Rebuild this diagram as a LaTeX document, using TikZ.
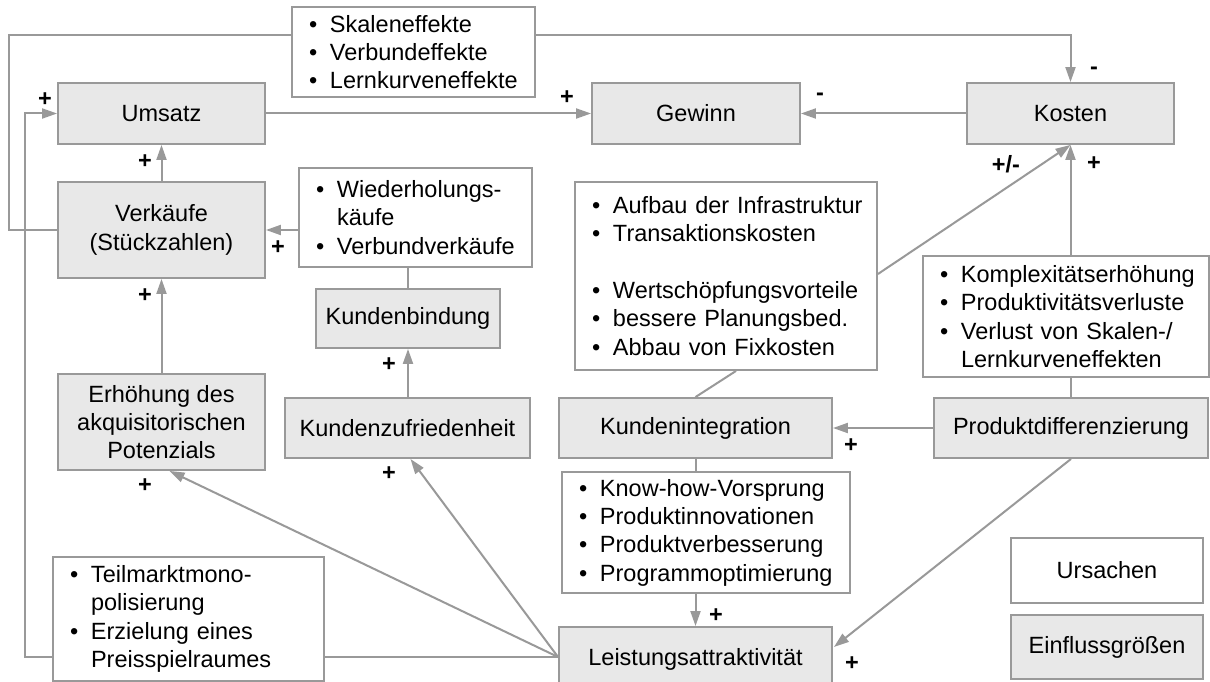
\documentclass[tikz,border=0pt]{standalone}
\usepackage{fontspec}
\setmainfont{Liberation Sans}
\usetikzlibrary{arrows.meta,calc}
\definecolor{ln}{HTML}{999999}
\definecolor{bx}{HTML}{E8E8E8}
\newcommand{\li}[1]{\mbox{\makebox[21pt][l]{•}#1}}
\newcommand{\lc}[1]{\mbox{\hspace*{21pt}#1}}
\begin{document}
\begin{tikzpicture}[x=1pt,y=-1pt,
  every node/.style={font=\fontsize{23.5}{28.3}\selectfont},
  base/.style={draw=ln, line width=1.9pt, inner sep=0pt, anchor=center},
  fact/.style={base, fill=bx, align=center},
  cause/.style={base, fill=white, align=left, inner xsep=17pt},
  conn/.style={draw=ln, line width=2pt},
  arr/.style={conn, -{Triangle[length=15pt,width=10pt]}},
  sign/.style={font=\fontsize{23.5}{28}\selectfont\bfseries, inner sep=0pt, anchor=center},
]
\useasboundingbox (0,0) rectangle (1210,682);
\clip (0,0) rectangle (1210,682);
\fill[white] (0,0) rectangle (1210,682);

% factor boxes
\node[fact, minimum width=207pt, minimum height=61pt] (umsatz) at (161.5,113.5) {Umsatz};
\node[fact, minimum width=208pt, minimum height=61pt] (gewinn) at (696,113.5) {Gewinn};
\node[fact, minimum width=207pt, minimum height=61pt] (kosten) at (1070.5,113.5) {Kosten};
\node[fact, minimum width=207pt, minimum height=96pt] (verk) at (161.5,230) {Verkäufe\\(Stückzahlen)};
\node[fact, minimum width=184pt, minimum height=59pt] (kbind) at (408,318.5) {Kundenbindung};
\node[fact, minimum width=207pt, minimum height=96pt] (erh) at (161.5,422) {Erhöhung des\\akquisitorischen\\Potenzials};
\node[fact, minimum width=245pt, minimum height=60pt] (kzuf) at (407.5,428) {Kundenzufriedenheit};
\node[fact, minimum width=273pt, minimum height=60pt] (kint) at (695.5,428) {Kundenintegration};
\node[fact, minimum width=274pt, minimum height=60pt] (pdiff) at (1071,428) {Produktdifferenzierung};
\node[fact, minimum width=273pt, minimum height=64pt] (leist) at (695.5,659) {Leistungsattraktivität};
\node[fact, minimum width=192pt, minimum height=64pt] (einf) at (1107,647) {Einflussgrößen};
\node[base, fill=white, minimum width=192pt, minimum height=65pt] (urs) at (1107,570.5) {Ursachen};

% cause boxes
\node[cause, minimum width=243pt, minimum height=90pt, text width=209pt] (skal) at (413.5,52)
  {\li{Skaleneffekte}\\\li{Verbundeffekte}\\\li{Lernkurveneffekte}};
\node[cause, minimum width=233pt, minimum height=99pt, text width=199pt] (wied) at (415.5,217.5)
  {\li{Wiederholungs-}\\\lc{käufe}\\\li{Verbundverkäufe}};
\node[cause, minimum width=302pt, minimum height=188pt, text width=268pt] (aufbau) at (726,276)
  {\li{Aufbau der Infrastruktur}\\\li{Transaktionskosten}\\\mbox{}\\\li{Wertschöpfungsvorteile}\\\li{bessere Planungsbed.}\\\li{Abbau von Fixkosten}};
\node[cause, minimum width=286pt, minimum height=121pt, text width=252pt] (komplex) at (1066,316.5)
  {\li{Komplexitätserhöhung}\\\li{Produktivitätsverluste}\\\li{Verlust von Skalen-/}\\\lc{Lernkurveneffekten}};
\node[cause, minimum width=288pt, minimum height=121pt, text width=254pt] (know) at (706,532.5)
  {\li{Know-how-Vorsprung}\\\li{Produktinnovationen}\\\li{Produktverbesserung}\\\li{Programmoptimierung}};
\node[cause, minimum width=271pt, minimum height=124pt, text width=237pt] (teil) at (188.5,619)
  {\li{Teilmarktmono-}\\\lc{polisierung}\\\li{Erzielung eines}\\\lc{Preisspielraumes}};

% connectors
\coordinate (tl) at (9,35);
\draw[conn] (verk.west) -| (tl) -- (skal.west |- tl);
\draw[arr] (skal.east |- tl) -| (kosten.north);
\draw[arr] (umsatz.east) -- (gewinn.west);
\draw[arr] (kosten.west) -- (gewinn.east);
\draw[arr] (verk.north) -- (umsatz.south);
\draw[arr] (erh.north) -- (verk.south);
\draw[arr] (wied.west |- verk.east) -- (verk.east);
\draw[conn] (kbind.north) -- (kbind.north |- wied.south);
\draw[arr] (kbind.south |- kzuf.north) -- (kbind.south);
\draw[arr] ($(aufbau.east)+(0,-2)$) -- (kosten.south);
\draw[arr] (kosten.south |- komplex.north) -- (kosten.south);
\draw[conn] ($(aufbau.south)+(10,0)$) -- (kint.north);
\draw[conn] (pdiff.north) -- (pdiff.north |- komplex.south);
\draw[arr] (pdiff.west) -- (kint.east);
\draw[conn] (kint.south) -- (kint.south |- know.north);
\draw[arr] (kint.south |- know.south) -- (leist.north);
\draw[arr] (pdiff.south) -- ($(leist.east)+(1,-12)$);
\draw[arr] ($(leist.west)+(0,-2)$) -- ($(erh.south)+(8,0)$);
\draw[arr] ($(leist.west)+(0,-2)$) -- ($(kzuf.south)+(3,0)$);
\draw[conn] ($(leist.west)+(0,-2)$) -- ($(teil.east |- leist.west)+(0,-2)$);
\draw[arr] ($(teil.west |- leist.west)+(0,-2)$) -| ($(umsatz.west)+(-32,0)$) -- (umsatz.west);

% signs
\node[sign] (s1) at (45,100) {+};
\node[sign] (s2) at (145,162) {+};
\node[sign] (s3) at (145,296) {+};
\node[sign] (s4) at (278,248) {+};
\node[sign] (s5) at (567,98) {+};
\node[sign] (s6) at (820,97) {-};
\node[sign] (s7) at (1094,71) {-};
\node[sign] (s8) at (1006,164) {+/-};
\node[sign] (s9) at (1094,164) {+};
\node[sign] (s10) at (145,486) {+};
\node[sign] (s11) at (389,474) {+};
\node[sign] (s12) at (389,365) {+};
\node[sign] (s13) at (851,446) {+};
\node[sign] (s14) at (716,616) {+};
\node[sign] (s15) at (852,664) {+};
\end{tikzpicture}
\end{document}
